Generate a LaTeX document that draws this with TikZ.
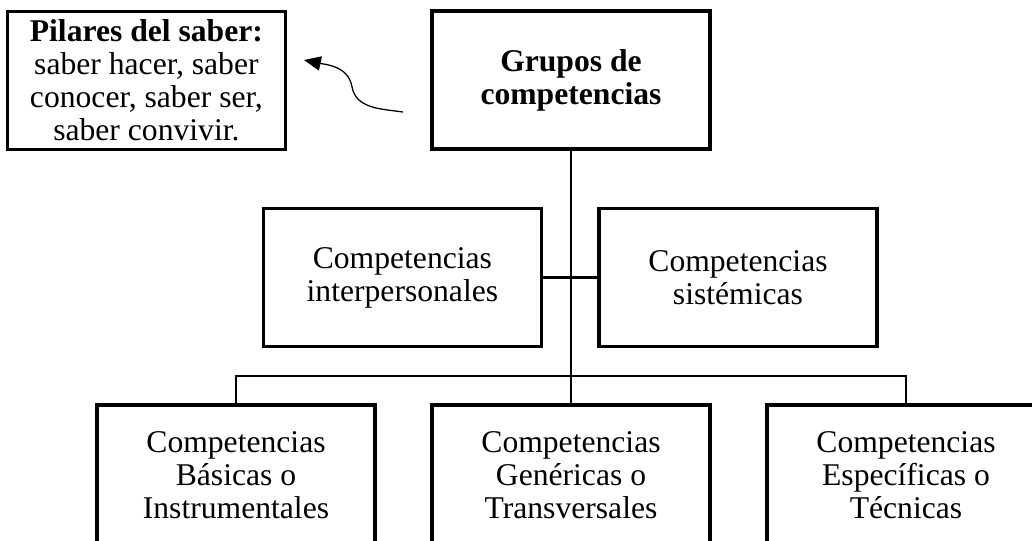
\documentclass[tikz,border=0pt]{standalone}
\usepackage{fontspec}
\setmainfont{Liberation Serif}
\usetikzlibrary{arrows.meta}
\tikzset{
  caja/.style={draw,line width=2.6pt,minimum width=6.95cm,minimum height=3.45cm,
    align=center,inner sep=0pt,font=\fontsize{22.5}{23.5}\selectfont},
  linea/.style={line width=1.7pt}
}

\begin{document}
\begin{tikzpicture}
\clip (0,0) rectangle (25.8,13.5);
\node [caja] (pilares) at (3.66,11.49) {\textbf{Pilares del saber:}\\saber hacer, saber\\conocer, saber ser,\\saber convivir.};
\node [caja] (grupos) at (14.275,11.5) {\textbf{Grupos de}\\\textbf{competencias}};
\node [caja] (inter) at (10.06,6.56) {Competencias\\interpersonales};
\node [caja] (sist) at (18.45,6.56) {Competencias\\sistémicas};
\node [caja,minimum height=3.5cm] (basicas) at (5.9,1.625) {Competencias\\Básicas o\\Instrumentales};
\node [caja,minimum height=3.5cm] (genericas) at (14.275,1.625) {Competencias\\Genéricas o\\Transversales};
\node [caja,minimum height=3.5cm] (especificas) at (22.65,1.625) {Competencias\\Específicas o\\Técnicas};
\coordinate (bus) at (14.275,4.1);
\draw [linea,line width=2.1pt] (grupos.south) -- (genericas.north);
\draw [linea] (inter.east) -- (sist.west);
\draw [linea] (basicas.north) |- (bus) -| (especificas.north);
% flecha curva
\coordinate (cola) at (10.075,10.7);
\coordinate (medio) at (8.8,11.33);
\coordinate (punta) at (7.6,12.0);
\draw [line width=0.9pt,-{Triangle[length=4.2mm,width=3.6mm]}] (cola) to[out=172,in=-80] (medio) to[out=100,in=-12] (punta);
\end{tikzpicture}
\end{document}
